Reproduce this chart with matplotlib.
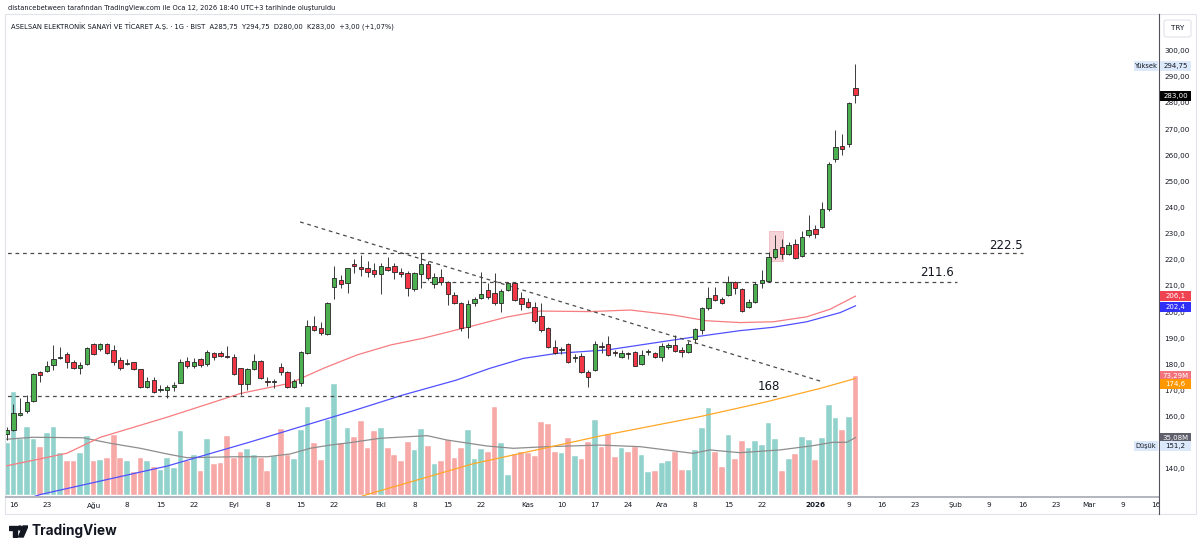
import numpy as np
import matplotlib

matplotlib.use("Agg")
import matplotlib.pyplot as plt
from matplotlib.patches import Rectangle, Circle, Polygon, FancyBboxPatch
from matplotlib.lines import Line2D

W, H, DPI = 1200, 551, 100

# ── Daily candles, 14 Jul 2025 .. 12 Jan 2026 (trading-day index 0..127) ──
OPEN = [153.4, 154.9, 160.7, 162.0, 166.1, 177.0, 177.6, 179.8, 182.5, 183.9,
        180.8, 178.5, 180.0, 187.7, 185.8, 187.8, 185.5, 181.7, 180.3, 180.8,
        178.1, 171.5, 174.2, 170.3, 170.2, 171.5, 173.0, 181.4, 179.5, 181.9,
        180.0, 184.5, 184.5, 183.2, 183.0, 178.5, 172.4, 178.1, 181.4, 173.5,
        173.2, 179.1, 177.0, 171.5, 173.0, 184.5, 194.5, 194.0, 191.6, 209.5,
        212.3, 211.0, 218.3, 217.4, 216.8, 216.1, 214.5, 217.4, 217.6, 215.5,
        214.8, 208.7, 214.6, 218.4, 210.8, 213.3, 211.4, 206.5, 203.4, 194.4,
        203.4, 205.3, 208.5, 207.2, 203.4, 208.5, 211.0, 205.5, 204.0, 202.1,
        198.5, 193.8, 186.8, 185.6, 187.8, 182.6, 183.2, 177.2, 177.8, 187.0,
        187.8, 184.6, 182.9, 184.1, 184.8, 180.0, 184.6, 184.2, 182.7, 186.5,
        187.4, 185.5, 184.6, 189.6, 193.2, 201.7, 206.5, 204.9, 206.5, 211.6,
        208.8, 201.8, 204.0, 211.3, 212.0, 221.2, 224.8, 222.2, 226.1, 221.6,
        229.4, 231.8, 232.4, 239.4, 258.5, 263.5, 264.3, 285.75]
HIGH = [155.9, 164.8, 167.0, 168.3, 176.8, 177.5, 181.4, 187.4, 186.8, 184.6,
        181.7, 181.0, 186.8, 188.1, 188.1, 188.0, 187.4, 182.9, 182.2, 181.0,
        178.3, 175.3, 175.3, 172.0, 172.1, 173.3, 181.9, 182.7, 182.4, 182.3,
        185.5, 184.8, 185.2, 187.0, 184.0, 178.8, 178.5, 183.9, 181.8, 175.0,
        174.5, 180.4, 177.5, 174.3, 185.2, 197.0, 198.5, 196.3, 204.0, 217.6,
        214.2, 217.0, 220.2, 221.8, 219.7, 218.8, 218.8, 221.2, 218.7, 216.8,
        215.7, 215.5, 222.7, 219.4, 215.1, 216.4, 212.0, 207.8, 203.8, 204.6,
        205.7, 215.5, 211.0, 214.8, 208.7, 211.4, 211.4, 207.8, 205.3, 203.8,
        203.4, 194.2, 189.3, 186.8, 188.2, 184.0, 184.5, 177.8, 188.9, 188.7,
        190.9, 185.5, 185.5, 184.6, 185.2, 185.5, 185.8, 184.6, 188.1, 188.1,
        191.2, 186.8, 188.9, 194.0, 202.0, 209.5, 209.7, 205.7, 213.8, 212.0,
        209.2, 205.0, 211.6, 216.1, 223.1, 229.5, 227.8, 226.9, 227.8, 231.0,
        237.1, 233.3, 242.0, 257.5, 269.7, 268.0, 280.2, 294.75]
LOW = [151.1, 154.5, 160.3, 161.5, 165.5, 173.4, 177.0, 178.0, 182.0, 178.5,
       178.3, 176.2, 179.8, 183.5, 185.3, 184.0, 179.8, 178.0, 179.7, 178.0,
       171.0, 170.8, 169.2, 169.3, 167.0, 170.0, 172.8, 178.5, 178.8, 179.0,
       179.5, 181.7, 182.7, 182.6, 176.0, 168.4, 170.2, 177.8, 174.3, 171.8,
       170.8, 175.9, 171.0, 171.0, 171.7, 184.0, 192.8, 191.2, 191.2, 204.9,
       209.1, 207.2, 215.1, 213.8, 213.3, 213.4, 206.9, 215.6, 212.5, 213.3,
       206.2, 208.0, 209.1, 212.2, 209.1, 210.4, 202.7, 203.0, 192.9, 190.0,
       202.3, 204.9, 205.1, 202.7, 200.2, 208.0, 204.2, 200.8, 201.5, 196.0,
       192.5, 186.4, 184.1, 184.1, 180.4, 180.8, 176.8, 171.2, 177.5, 184.2,
       183.2, 183.3, 182.5, 181.9, 179.2, 179.7, 183.5, 182.3, 181.4, 186.0,
       184.8, 183.0, 184.2, 188.1, 191.6, 200.9, 204.2, 203.2, 206.0, 206.9,
       200.0, 201.4, 203.6, 209.1, 211.5, 220.5, 220.2, 221.8, 220.2, 221.0,
       228.6, 228.5, 232.0, 238.8, 257.5, 260.1, 263.3, 280.0]
CLOSE = [154.8, 161.3, 161.4, 165.7, 176.2, 176.0, 179.5, 181.9, 182.9, 180.8,
         178.7, 179.8, 186.4, 183.9, 187.8, 184.5, 181.0, 178.5, 180.5, 178.2,
         171.5, 173.7, 169.6, 170.5, 171.2, 172.2, 181.0, 179.5, 181.0, 179.8,
         184.8, 182.7, 183.2, 182.8, 176.5, 172.5, 178.1, 181.3, 174.7, 173.3,
         173.5, 177.0, 171.5, 173.5, 184.8, 194.7, 193.2, 191.9, 203.6, 212.9,
         210.6, 216.8, 217.7, 216.6, 215.5, 214.5, 217.6, 216.1, 215.5, 214.5,
         209.1, 215.1, 218.4, 212.9, 213.6, 211.4, 206.9, 203.4, 193.8, 203.1,
         204.9, 206.9, 205.9, 203.4, 208.2, 211.0, 204.6, 203.0, 202.1, 196.7,
         193.2, 186.8, 184.5, 186.0, 180.8, 182.9, 177.2, 175.3, 187.8, 186.6,
         183.6, 184.3, 184.2, 183.9, 179.5, 183.6, 184.9, 182.7, 187.0, 187.4,
         185.2, 184.7, 187.8, 193.4, 201.7, 205.3, 204.6, 203.6, 211.6, 209.1,
         200.5, 204.0, 210.7, 212.3, 221.0, 224.1, 222.2, 225.7, 220.6, 228.6,
         231.3, 229.9, 239.4, 256.5, 263.0, 262.3, 280.0, 283.0]
# volume in millions
VOLUME = [31.6, 63.0, 34.2, 41.8, 34.0, 29.1, 37.7, 41.8, 25.4, 20.7,
          20.7, 25.8, 36.1, 20.7, 21.3, 22.3, 36.5, 22.3, 20.7, 14.1,
          22.3, 20.7, 17.2, 15.1, 22.7, 16.6, 39.2, 20.9, 24.4, 14.5,
          34.2, 18.8, 19.6, 36.1, 22.7, 26.2, 27.9, 24.4, 22.7, 14.7,
          24.0, 40.4, 24.4, 21.7, 39.8, 54.2, 31.6, 21.3, 46.0, 68.0,
          31.5, 41.3, 35.6, 45.2, 28.4, 39.3, 41.3, 28.4, 24.3, 20.6,
          32.5, 27.3, 40.5, 29.8, 19.1, 20.6, 33.5, 22.6, 28.4, 39.7,
          21.6, 28.0, 26.3, 53.7, 31.5, 12.3, 24.9, 26.3, 25.3, 23.6,
          44.6, 43.2, 26.3, 25.7, 35.0, 23.6, 22.2, 32.1, 45.9, 29.2,
          37.4, 23.0, 28.4, 26.3, 29.6, 24.1, 14.0, 14.4, 19.5, 20.4,
          26.3, 15.2, 15.2, 27.6, 41.1, 53.3, 26.3, 16.9, 37.0, 22.0,
          33.3, 28.4, 33.3, 30.4, 44.2, 34.5, 14.4, 22.0, 24.7, 35.6,
          33.9, 21.0, 35.0, 55.5, 47.3, 39.9, 47.7, 73.29]

# moving averages (index, value)
MA_RED_IDX = [0, 9, 14, 24, 35, 42.4, 47.4, 52.4, 57.4, 62.3, 67.3, 70.3, 74.8,
              79.8, 87.3, 93.3, 99.7, 104.7, 109.7, 114.7, 119.7, 123.2, 127]
MA_RED_VAL = [141.2, 146.0, 152.1, 159.8, 168.9, 172.8, 178.5, 183.6, 187.4, 190.0,
              193.2, 195.1, 198.1, 200.4, 200.2, 200.8, 198.9, 196.7, 196.0, 196.3,
              198.2, 201.1, 206.1]
MA_BLUE_IDX = [3, 5, 24, 36.4, 51.4, 59.3, 67.3, 72.3, 77.3, 82.3, 87.3, 89.8,
               99.7, 103.2, 109.7, 114.7, 119.7, 124.7, 127]
MA_BLUE_VAL = [128.5, 130.2, 141.1, 150.3, 161.9, 168.3, 174.0, 178.5, 182.3, 184.2,
               185.1, 185.5, 189.3, 190.6, 192.9, 194.2, 196.3, 199.8, 202.4]
MA_ORANGE_IDX = [52.5, 53.9, 69.8, 88.8, 103.7, 113.7, 121.7, 127]
MA_ORANGE_VAL = [129.0, 130.2, 142.0, 152.6, 160.0, 165.7, 170.8, 174.6]
VOL_MA_IDX = [0, 3.9, 11.4, 15.5, 20, 24, 27, 34, 39, 42.4, 45.4, 48.4, 51.4, 55.9,
              62.9, 65.9, 71.9, 75.8, 80.8, 88.8, 94.8, 102.7, 105.2, 109.7, 115.7,
              120.6, 123.6, 125.7, 127]
VOL_MA_VAL = [34.1, 35.3, 35.0, 31.6, 28.5, 25.0, 22.7, 23.3, 23.3, 25.0, 28.5, 30.5,
              32.0, 34.7, 36.3, 33.6, 29.9, 28.5, 29.5, 30.5, 29.5, 25.4, 27.5, 25.8,
              27.5, 30.1, 32.2, 32.2, 35.08]

# x-axis labels (trading-day index, text)
XTICK_IDX = [1, 6, 13, 18, 23, 28, 34, 39, 44, 49, 56, 61, 66, 71, 78, 83, 88, 93,
             98, 103, 108, 113, 121, 126, 131, 136, 142, 147, 152, 157, 162, 167, 172]
XTICK_LBL = ["16", "23", "Ağu", "8", "15", "22", "Eyl", "8", "15", "22", "Eki", "8",
             "15", "22", "Kas", "10", "17", "24", "Ara", "8", "15", "22", "2026", "9",
             "16", "23", "Şub", "9", "16", "23", "Mar", "9", "16"]
YTICKS = list(range(140, 301, 10))
HIDDEN_YTICKS = [150]   # fully covered by the "Düşük" tag in the reference

# drawn levels
LEVEL_222 = 222.5
LEVEL_211 = 211.6
LEVEL_168 = 168
TREND_IDX = [43.9, 122.0]
TREND_VAL = [234.5, 173.4]

TEXT = "#131722"
UP, DOWN = "#4caf50", "#f23645"
VOL_UP, VOL_DOWN = "#92d2cc", "#f7a9a7"


def fx(x):
    return x / W


def fy(y):
    return 1 - y / H


fig = plt.figure(figsize=(W / DPI, H / DPI), dpi=DPI, facecolor="white")

# volume pane behind price pane
axv = fig.add_axes([fx(6), fy(497), fx(1153), 482 / H])
ax = fig.add_axes([fx(6), fy(497), fx(1153), 482 / H], sharex=axv)
ax.set_zorder(axv.get_zorder() + 1)
ax.patch.set_visible(False)

idx = np.arange(len(OPEN))
o, h, l, c = (np.array(a) for a in (OPEN, HIGH, LOW, CLOSE))
up = c >= o

axv.bar(idx, VOLUME, width=0.86, color=np.where(up, VOL_UP, VOL_DOWN),
        edgecolor="white", linewidth=0.3)
axv.plot(VOL_MA_IDX, VOL_MA_VAL, color="#8d8d8d", lw=0.9)
axv.set_ylim(-1.54, 295.8)
axv.axis("off")

# pink highlight box
ax.add_patch(Rectangle((114.1, 219.6), 2.1, 11.6, facecolor="#f6d3d6",
                       edgecolor="#efb9bf", lw=0.6, zorder=1))

# moving averages
ax.plot(MA_RED_IDX, MA_RED_VAL, color="#f77c80", lw=0.9, zorder=2)
ax.plot(MA_BLUE_IDX, MA_BLUE_VAL, color="#5050ff", lw=0.9, zorder=2)
ax.plot(MA_ORANGE_IDX, MA_ORANGE_VAL, color="#ffa726", lw=0.9, zorder=2)

# candles
ax.vlines(idx, l, h, color="#3a3a3a", lw=0.7, zorder=3)
body_h = np.maximum(np.abs(c - o), 0.35)
ax.bar(idx, body_h, bottom=np.minimum(o, c), width=0.66,
       color=np.where(up, UP, DOWN), edgecolor="#262626", linewidth=0.6, zorder=4)

# dashed levels and trend line
dash = dict(color="#4a4a4a", lw=0.9, dashes=(3, 3), zorder=2)
ax.plot([-1, 152.1], [LEVEL_222] * 2, **dash)
ax.plot([62.2, 142.2], [LEVEL_211] * 2, **dash)
ax.plot([-1, 115.7], [LEVEL_168] * 2, **dash)
ax.plot(TREND_IDX, TREND_VAL, **dash)
ax.text(149.5, 225.3, f"{LEVEL_222}", fontsize=8.5, color=TEXT, ha="center", va="center")
ax.text(139.2, 215.3, f"{LEVEL_211}", fontsize=8.5, color=TEXT, ha="center", va="center")
ax.text(114.1, 171.7, f"{LEVEL_168}", fontsize=8.5, color=TEXT, ha="center", va="center")

ax.set_xlim(-0.107, 172.42)
ax.set_ylim(129.27, 313.66)

# axes styling
for side in ("top", "left", "right"):
    ax.spines[side].set_visible(False)
ax.spines["bottom"].set_color("#b2b5be")
ax.spines["bottom"].set_linewidth(1.4)
ax.yaxis.tick_right()
ax.set_yticks(YTICKS)
ax.set_yticklabels(["" if v in HIDDEN_YTICKS else (f"{v},00" if v >= 250 else f"{v},0")
                    for v in YTICKS])
ax.set_xticks(XTICK_IDX)
ax.set_xticklabels(XTICK_LBL)
for t in ax.get_xticklabels():
    if t.get_text() == "2026":
        t.set_fontweight("bold")
ax.tick_params(axis="y", length=0, pad=4, labelsize=5.2, labelcolor=TEXT)
ax.tick_params(axis="x", length=0, pad=3.5, labelsize=5.2, labelcolor=TEXT)

# pane frame and price-scale divider
fig.add_artist(Rectangle((fx(5), fy(514)), fx(1191), 500 / H, transform=fig.transFigure,
                         fill=False, edgecolor="#e0e3eb", lw=0.8))
fig.add_artist(Line2D([fx(1159)] * 2, [fy(14), fy(514)], color="#50535e", lw=0.8))

# header
fig.text(fx(8), fy(8), "distancebetween tarafından TradingView.com ile Oca 12, 2026 18:40 UTC+3 "
         "tarihinde oluşturuldu", fontsize=4.8, color=TEXT, va="center")
fig.text(fx(11), fy(27), "ASELSAN ELEKTRONİK SANAYİ VE TİCARET A.Ş. · 1G · BIST  A285,75  "
         "Y294,75  D280,00  K283,00  +3,00 (+1,07%)", fontsize=4.9, color=TEXT, va="center")

# currency box
fig.add_artist(FancyBboxPatch((fx(1164), fy(37)), fx(27), 17 / H, transform=fig.transFigure,
                              boxstyle="round,pad=0,rounding_size=0.003",
                              facecolor="white", edgecolor="#e0e3eb", lw=0.8))
fig.text(fx(1177.5), fy(28.5), "TRY", fontsize=5.2, color=TEXT, ha="center", va="center")


def tag(value, text, bg, fg, shift=0.0, axis=ax, side_label=None):
    """Price-scale tag; positive shift moves it down by that many pixels."""
    y = axis.transData.transform((0, value))[1] / H - shift / H
    fig.add_artist(Rectangle((fx(1160), y - 5 / H), fx(31), 10 / H,
                             transform=fig.transFigure, facecolor=bg, edgecolor="none", zorder=5))
    fig.text(fx(1175.5), y, text, fontsize=5.0, color=fg, ha="center", va="center", zorder=6)
    if side_label:
        fig.add_artist(Rectangle((fx(1134), y - 5 / H), fx(24), 10 / H,
                                 transform=fig.transFigure, facecolor=bg, edgecolor="none",
                                 zorder=5))
        fig.text(fx(1146), y, side_label, fontsize=4.8, color=TEXT, ha="center",
                 va="center", zorder=6)


tag(HIGH[-1], "294,75", "#dce9fb", TEXT, shift=1.5, side_label="Yüksek")
tag(CLOSE[-1], "283,00", "#000000", "white", shift=0.5)
tag(MA_RED_VAL[-1], "206,1", "#ef4352", "white")
tag(MA_BLUE_VAL[-1], "202,4", "#2f2ff5", "white", shift=1.2)
tag(VOLUME[-1], "73,29M", "#f2737b", "white", axis=axv)
tag(MA_ORANGE_VAL[-1], "174,6", "#ff9800", "white", shift=5.5)
tag(VOL_MA_VAL[-1], "35,08M", "#5d606b", "white", axis=axv)
tag(min(LOW), "151,2", "#dce9fb", TEXT, shift=6.5, side_label="Düşük")

# TradingView logo
lax = fig.add_axes([fx(9), fy(538), fx(19), 13 / H])
lax.set_xlim(0, 19)
lax.set_ylim(13, 0)
lax.axis("off")
lax.add_patch(Polygon([(0, 1), (8, 1), (8, 12), (4, 12), (4, 5), (0, 5)], color=TEXT))
lax.add_patch(Circle((10.8, 3), 2.0, color=TEXT))
lax.add_patch(Polygon([(14, 1), (19, 1), (14.2, 12), (9.5, 12)], color=TEXT))
fig.text(fx(31), fy(531), "TradingView", fontsize=9.8, fontweight="bold", family="Inter",
         color=TEXT, va="center")

fig.savefig("out.png", dpi=DPI, facecolor="white")
